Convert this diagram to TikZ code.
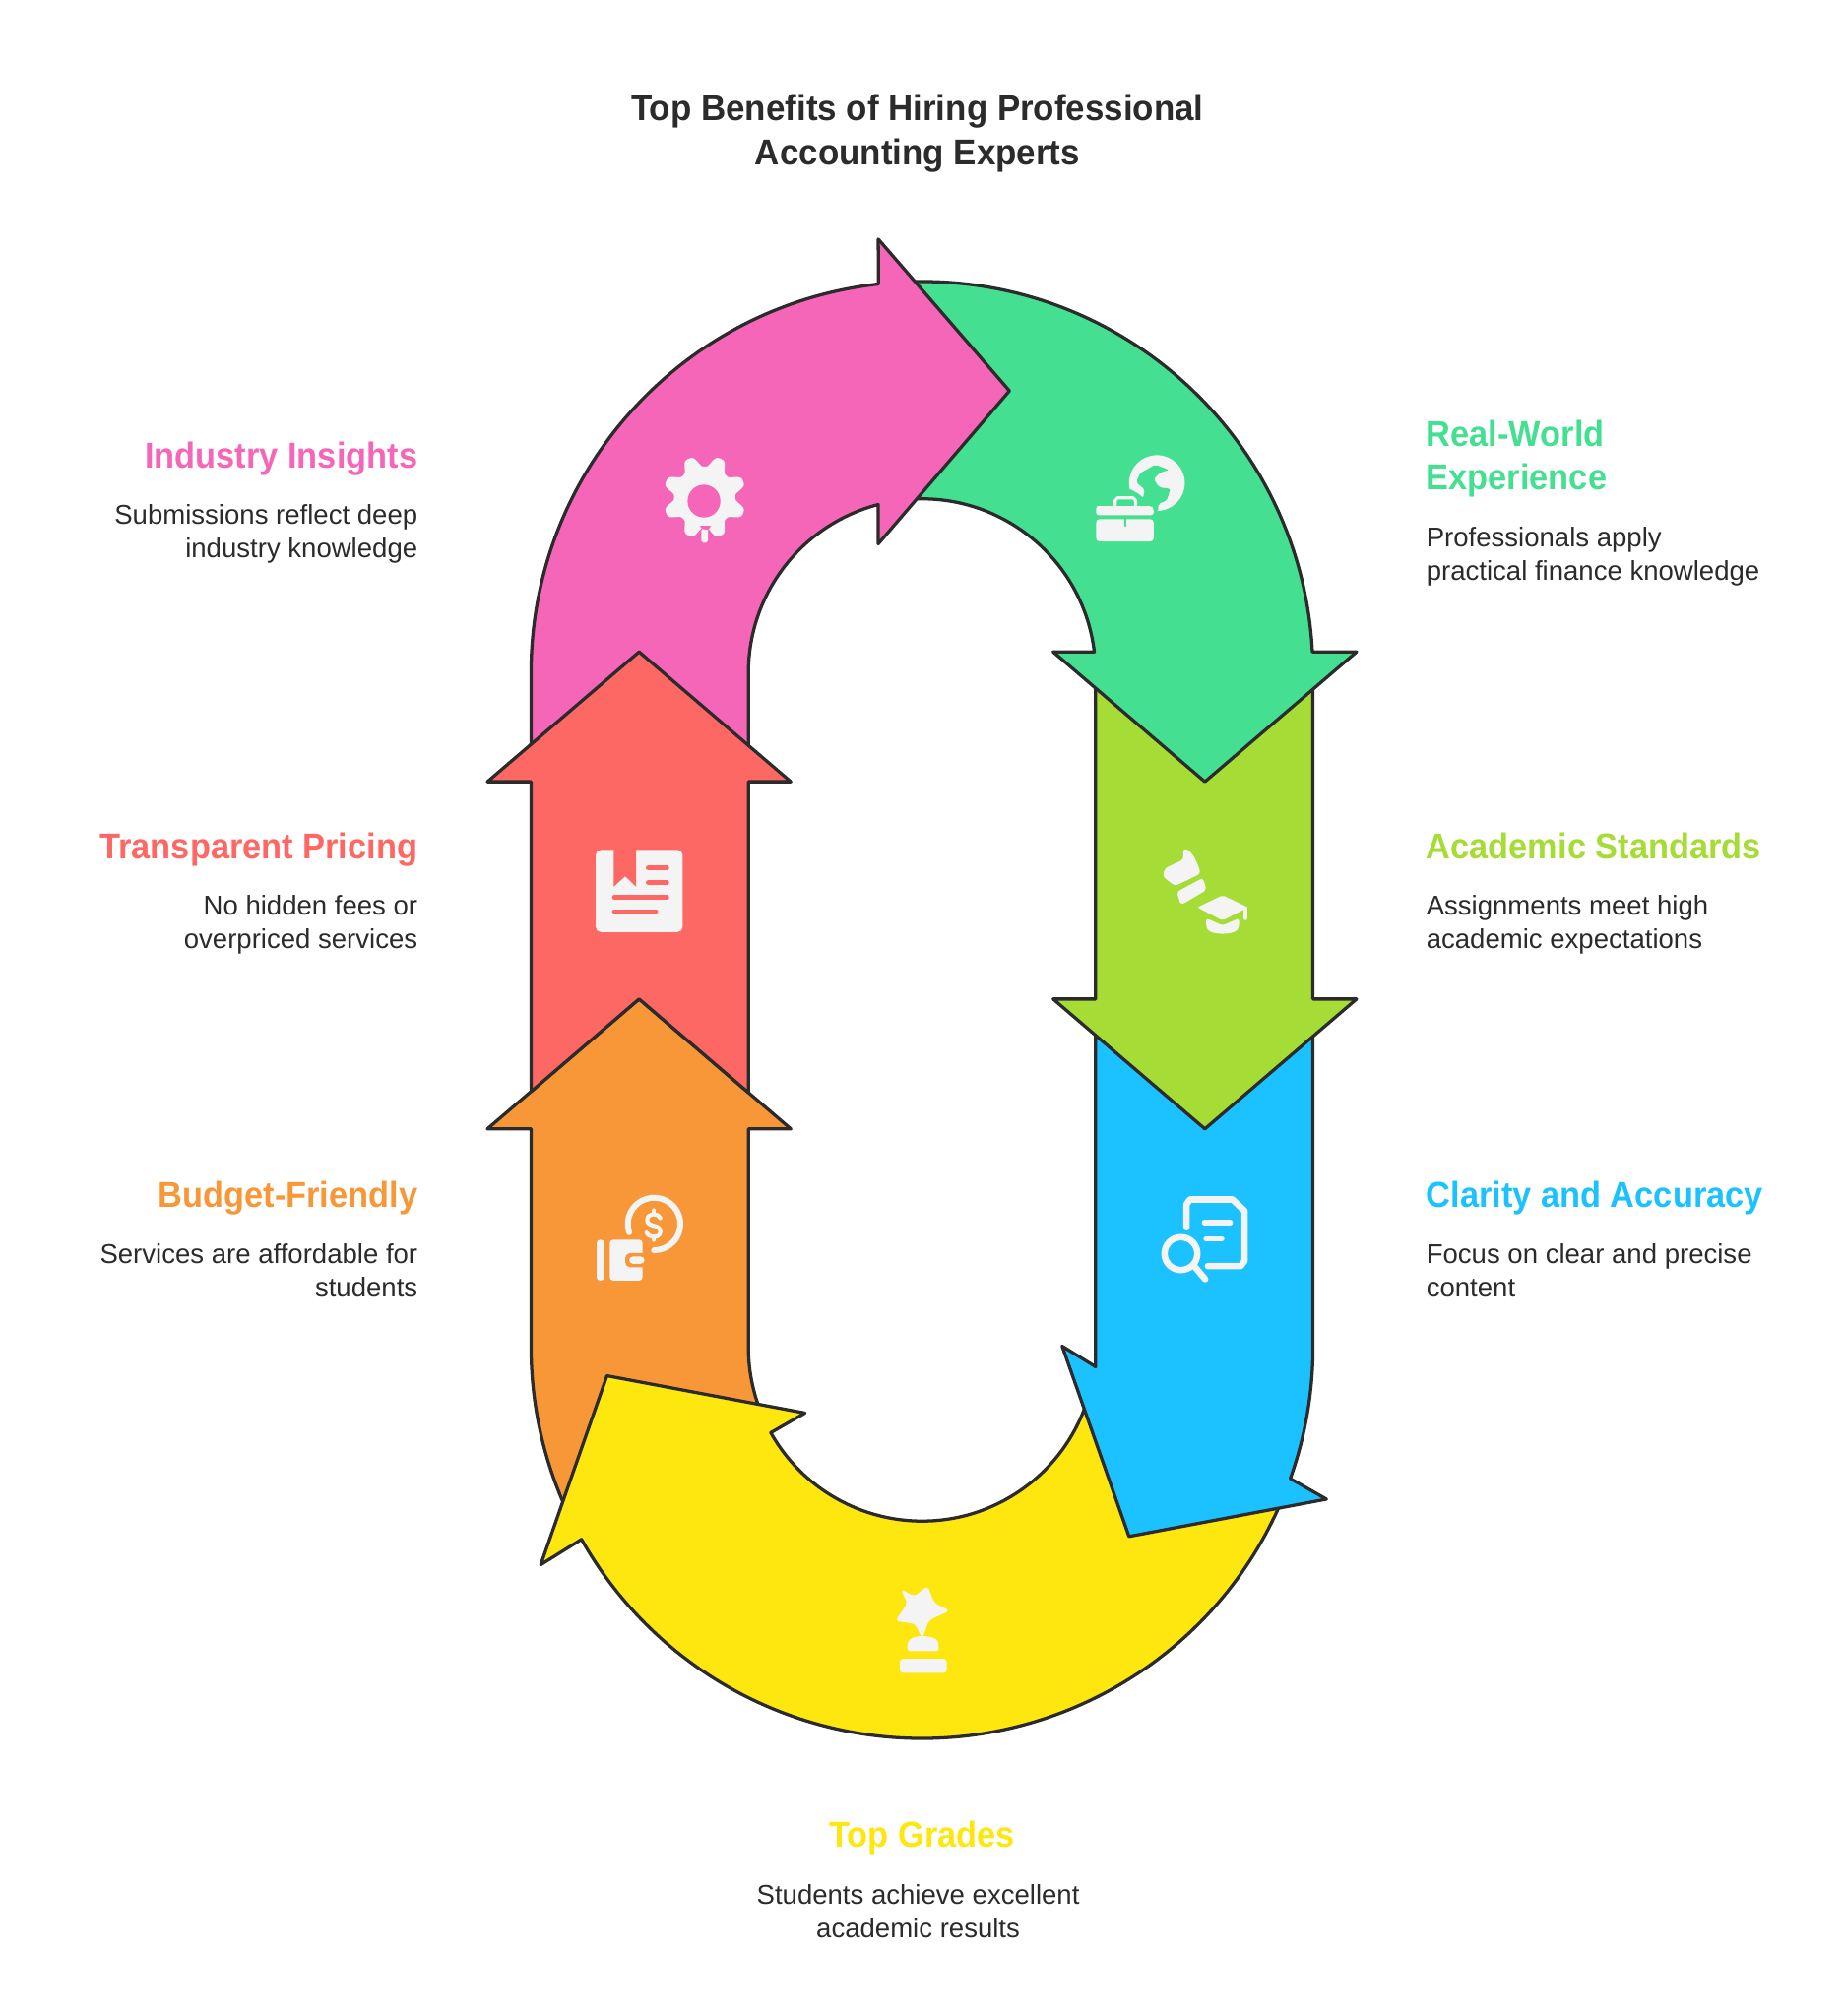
\documentclass[tikz,border=0pt]{standalone}
\usepackage{fontspec}
\setmainfont{Liberation Sans}
\newfontfamily\headfont[FakeStretch=0.94]{Liberation Sans}
\newfontfamily\titlefont[FakeStretch=0.955]{Liberation Sans}
\usetikzlibrary{positioning}

\definecolor{inkcol}{HTML}{2B2B2B}
\definecolor{iconcol}{HTML}{F4F4F4}
\definecolor{pinkcol}{HTML}{F566B8}
\definecolor{greencol}{HTML}{45DF92}
\definecolor{limecol}{HTML}{A6DC36}
\definecolor{bluecol}{HTML}{1BC2FF}
\definecolor{yellowcol}{HTML}{FEE60F}
\definecolor{orangecol}{HTML}{F89738}
\definecolor{redcol}{HTML}{FD6864}

\begin{document}
\begin{tikzpicture}[
    x=1pt, y=-1pt,
    loopshape/.style={draw=inkcol, line width=2.5pt, line join=round},
    titletext/.style={font=\fontsize{28}{34}\selectfont\titlefont\bfseries, text=inkcol, align=center, inner sep=0pt},
    headtext/.style={font=\fontsize{28}{34}\selectfont\headfont\bfseries, inner sep=0pt},
    desctext/.style={font=\fontsize{21.1}{26}\selectfont, text=inkcol, inner sep=0pt},
    iconline/.style={draw=iconcol, line cap=round, line join=round},
]
    \useasboundingbox (0,0) rectangle (1434,1568);

    % Title
    \node[titletext, anchor=base] (title) at (713.5,128) {Top Benefits of Hiring Professional\\Accounting Experts};

    % Loop arrows, back to front
    \draw[loopshape, fill=orangecol] (582,878) -- (582,1048) arc (180:155:135) -- (448.6,1190.7) arc (152:180:304)
        -- (413,878) -- (379,878) -- (497,777) -- (615,878) -- cycle;
    \draw[loopshape, fill=yellowcol] (998.9,1161.9) arc (22:150.6:304) -- (420.5,1217) -- (472,1070) -- (626,1099)
        -- (599.4,1114.3) arc (150.6:10:135) -- cycle;
    \draw[loopshape, fill=bluecol] (852,790) -- (852,1063) -- (826,1047) -- (878,1195) -- (1031.5,1166)
        -- (1003.4,1150) arc (19.6:0:304) -- (1021,790) -- cycle;
    \draw[loopshape, fill=limecol] (852,520) -- (852,777) -- (819,777) -- (937,878) -- (1055,777) -- (1021,777) -- (1021,520) -- cycle;
    \draw[loopshape, fill=greencol] (711.7,219) arc (269:357:304) -- (1055,507) -- (937,608) -- (819,507) -- (851,507)
        arc (353.2:268:135) -- cycle;
    \draw[loopshape, fill=pinkcol] (413,590) -- (413,523) arc (180:263.6:304) -- (683,186) -- (785,304) -- (683,423) -- (683,392.4)
        arc (255.4:180:135) -- (582,590) -- cycle;
    \draw[loopshape, fill=redcol] (582,849.8) -- (582,608) -- (615,608) -- (497,507) -- (379,608) -- (413,608) -- (413,849) -- (497,777) -- cycle;

    % Gear icon
    \begin{scope}[shift={(497.7,336.9)}, scale=0.2552]
        \fill[iconcol] plot[domain=0:360, samples=121, smooth cycle] ({197+(110+19*(cos(8*(\x-22.5))-cos(24*(\x-22.5))/9))*cos(\x)}, {195+(110+19*(cos(8*(\x-22.5))-cos(24*(\x-22.5))/9))*sin(\x)});
        \fill[iconcol, rounded corners=1.5pt] (187,290) rectangle (207,334);
        \fill[pinkcol] (195,207) circle (50);
        \fill[pinkcol] (182,282) -- (216,282) .. controls (214,298) and (186,298) .. (182,282) -- cycle;
    \end{scope}

    % Globe and briefcase icon
    \begin{scope}[shift={(834.6,336.9)}, scale=0.2552]
        \fill[iconcol] (255,152) circle (85);
        \fill[greencol, rounded corners=1.5pt] (192,150) -- (204,122) -- (250,96) -- (292,112) -- (265,120) -- (245,140) -- (262,165)
            -- (296,170) -- (285,205) -- (260,215) -- (258,240) -- (150,260) -- (150,172) -- (172,170) -- (200,185) -- (213,198) -- (218,172) -- cycle;
        \fill[iconcol, rounded corners=2pt] (70,222) -- (78,222) -- (238,222) -- (245,230) -- (245,250) -- (70,250) -- cycle;
        \fill[iconcol, rounded corners=2.5pt] (70,262) -- (245,262) -- (245,330) -- (70,330) -- cycle;
        \draw[iconline, line width=2.4pt] (128,220) -- (128,205) -- (135,197) -- (182,197) -- (190,205) -- (190,220);
        \draw[greencol, line width=1.8pt, line cap=round] (158,262) -- (158,282);
    \end{scope}

    % Book and lines icon
    \begin{scope}[shift={(444.1,627.9)}, scale=0.2552]
        \fill[iconcol, rounded corners=4pt] (75,130) rectangle (340,380);
        \fill[redcol] (130,125) -- (198,125) -- (198,242) -- (165,210) -- (130,242) -- cycle;
        \draw[redcol, line width=3.6pt, line cap=round] (235,185) -- (292,185) (235,230) -- (292,230) (132,275) -- (292,275) (132,318) -- (258,318);
    \end{scope}

    % Scroll and cap icon
    \begin{scope}[shift={(880.6,643.2)}, scale=0.2552]
        \fill[iconcol, rounded corners=2.5pt] (155,65) .. controls (185,75) and (200,115) .. (208,142) -- (130,180) -- (92,150) -- (100,125) -- (155,100) -- cycle;
        \fill[iconcol, rounded corners=2.5pt] (215,155) -- (226,192) -- (148,238) -- (135,198) -- cycle;
        \fill[iconcol, rounded corners=1.5pt] (198,245) -- (275,208) -- (352,245) -- (275,285) -- cycle;
        \draw[iconline, line width=3pt] (345,248) -- (345,278);
        \fill[iconcol, rounded corners=2pt] (225,278) -- (275,300) -- (325,278) -- (325,305) .. controls (310,330) and (240,330) .. (225,305) -- cycle;
    \end{scope}

    % Document and magnifier icon
    \begin{scope}[shift={(880.6,911.2)}, scale=0.2552]
        \draw[iconline, line width=5pt] (165,170) -- (165,100) -- (175,85) -- (305,85) -- (342,120) -- (342,272) -- (330,288) -- (230,288);
        \draw[iconline, line width=4.4pt] (220,155) -- (298,155) (225,205) -- (272,205);
        \draw[iconline, line width=5pt] (148,250) circle (50);
        \draw[iconline, line width=5pt] (190,290) -- (222,328);
    \end{scope}

    % Wallet and coin icon
    \begin{scope}[shift={(444.1,911.2)}, scale=0.2552]
        \fill[iconcol, rounded corners=2.5pt] (78,208) rectangle (101,332);
        \fill[iconcol, rounded corners=2.5pt] (118,208) rectangle (218,332);
        \fill[orangecol, rounded corners=4pt] (165,248) rectangle (235,292);
        \fill[iconcol, rounded corners=3pt] (177,259) rectangle (224,281);
        \draw[iconline, line width=4.6pt] (177,185) arc (161.6:450:80);
        \draw[iconline, line width=3.2pt] (272,142) .. controls (262,124) and (232,126) .. (232,148) .. controls (232,170) and (272,160) .. (272,182) .. controls (272,204) and (238,204) .. (230,186);
        \draw[iconline, line width=3.2pt] (252,118) -- (252,128) (252,198) -- (252,208);
    \end{scope}

    % Trophy icon
    \begin{scope}[shift={(673.8,1240.4)}, scale=0.2552]
        \fill[iconcol, rounded corners=3pt] (186,-28) -- (207,25) -- (254,48) -- (190,78) -- (170,134) -- (148,88) -- (88,80) -- (125,25) -- (104,-18) -- (146,5) -- cycle;
        \fill[iconcol, rounded corners=2pt] (125,172) -- (125,150) .. controls (135,120) and (210,120) .. (220,150) -- (220,172) -- cycle;
        \fill[iconcol, rounded corners=2.5pt] (102,195) rectangle (245,238);
    \end{scope}

    % Left labels
    \node[headtext, anchor=base east, text=pinkcol] (insightsHead) at (325,364) {Industry Insights};
    \node[desctext, anchor=base east, align=right] (insightsText) at (325,434) {Submissions reflect deep\\industry knowledge};
    \node[headtext, anchor=base east, text=redcol] (pricingHead) at (325,668) {Transparent Pricing};
    \node[desctext, anchor=base east, align=right] (pricingText) at (325,738) {No hidden fees or\\overpriced services};
    \node[headtext, anchor=base east, text=orangecol] (budgetHead) at (325,939) {Budget-Friendly};
    \node[desctext, anchor=base east, align=right] (budgetText) at (325,1009) {Services are affordable for\\students};

    % Right labels
    \node[headtext, anchor=base west, text=greencol, align=left] (realHead) at (1109,381) {Real-World\\Experience};
    \node[desctext, anchor=base west, align=left] (realText) at (1109,451) {Professionals apply\\practical finance knowledge};
    \node[headtext, anchor=base west, text=limecol] (academicHead) at (1109,668) {Academic Standards};
    \node[desctext, anchor=base west, align=left] (academicText) at (1109,738) {Assignments meet high\\academic expectations};
    \node[headtext, anchor=base west, text=bluecol] (clarityHead) at (1109,939) {Clarity and Accuracy};
    \node[desctext, anchor=base west, align=left] (clarityText) at (1109,1009) {Focus on clear and precise\\content};

    % Bottom label
    \node[headtext, anchor=base, text=yellowcol] (gradesHead) at (717,1437) {Top Grades};
    \node[desctext, anchor=base, align=center] (gradesText) at (714,1507) {Students achieve excellent\\academic results};
\end{tikzpicture}
\end{document}
